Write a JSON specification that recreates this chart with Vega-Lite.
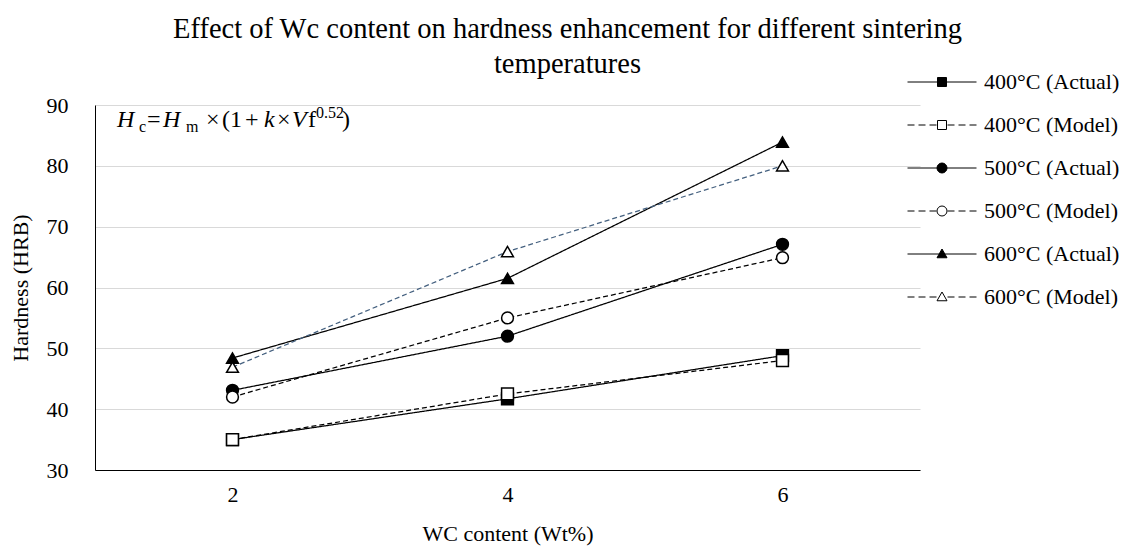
{
  "$schema": "https://vega.github.io/schema/vega-lite/v6.json",
  "width": 825,
  "height": 365,
  "autosize": {"type": "none"},
  "padding": {"left": 95, "top": 105, "right": 215, "bottom": 76},
  "background": "white",
  "title": {
    "text": ["Effect of Wc content on hardness enhancement for different sintering", "temperatures"],
    "anchor": "middle",
    "dx": 60,
    "font": "Liberation Serif",
    "fontSize": 28.5,
    "fontWeight": "normal",
    "color": "black",
    "lineHeight": 35,
    "offset": -7
  },
  "datasets": {
    "hardness": [
      {"wc": 2, "hardness": 35, "series": "400°C (Actual)"},
      {"wc": 4, "hardness": 41.7, "series": "400°C (Actual)"},
      {"wc": 6, "hardness": 48.8, "series": "400°C (Actual)"},
      {"wc": 2, "hardness": 35, "series": "400°C (Model)"},
      {"wc": 4, "hardness": 42.5, "series": "400°C (Model)"},
      {"wc": 6, "hardness": 48, "series": "400°C (Model)"},
      {"wc": 2, "hardness": 43.1, "series": "500°C (Actual)"},
      {"wc": 4, "hardness": 52, "series": "500°C (Actual)"},
      {"wc": 6, "hardness": 67.1, "series": "500°C (Actual)"},
      {"wc": 2, "hardness": 42, "series": "500°C (Model)"},
      {"wc": 4, "hardness": 55, "series": "500°C (Model)"},
      {"wc": 6, "hardness": 64.9, "series": "500°C (Model)"},
      {"wc": 2, "hardness": 48.4, "series": "600°C (Actual)"},
      {"wc": 4, "hardness": 61.5, "series": "600°C (Actual)"},
      {"wc": 6, "hardness": 83.9, "series": "600°C (Actual)"},
      {"wc": 2, "hardness": 46.9, "series": "600°C (Model)"},
      {"wc": 4, "hardness": 65.9, "series": "600°C (Model)"},
      {"wc": 6, "hardness": 80, "series": "600°C (Model)"}
    ],
    "note": [
      {"label": "equation"}
    ]
  },
  "data": {"name": "hardness"},
  "layer": [
    {
      "mark": {"type": "line", "strokeWidth": 1.25},
      "encoding": {
        "x": {
          "field": "wc",
          "type": "ordinal",
          "scale": {"type": "point", "padding": 0.5},
          "axis": {"title": "WC content (Wt%)", "labelAngle": 0, "labelPadding": 14, "titlePadding": 18, "grid": false}
        },
        "y": {
          "field": "hardness",
          "type": "quantitative",
          "scale": {"domain": [30, 90], "nice": false, "zero": false},
          "axis": {"title": "Hardness (HRB)", "values": [30, 40, 50, 60, 70, 80, 90], "labelPadding": 27, "titlePadding": 14, "grid": true}
        },
        "color": {
          "field": "series",
          "type": "nominal",
          "scale": {
            "domain": ["400°C (Actual)", "400°C (Model)", "500°C (Actual)", "500°C (Model)", "600°C (Actual)", "600°C (Model)"],
            "range": ["#000000", "#000000", "#000000", "#000000", "#000000", "#44607F"]
          },
          "legend": null
        },
        "strokeDash": {
          "field": "series",
          "type": "nominal",
          "scale": {
            "domain": ["400°C (Actual)", "400°C (Model)", "500°C (Actual)", "500°C (Model)", "600°C (Actual)", "600°C (Model)"],
            "range": [[1, 0], [5, 3], [1, 0], [5, 3], [1, 0], [5, 3]]
          },
          "legend": null
        }
      }
    },
    {
      "mark": {"type": "point", "size": 140, "stroke": "black", "strokeWidth": 1.5, "opacity": 1},
      "encoding": {
        "x": {"field": "wc", "type": "ordinal"},
        "y": {"field": "hardness", "type": "quantitative"},
        "shape": {
          "field": "series",
          "type": "nominal",
          "scale": {
            "domain": ["400°C (Actual)", "400°C (Model)", "500°C (Actual)", "500°C (Model)", "600°C (Actual)", "600°C (Model)"],
            "range": ["square", "square", "circle", "circle", "triangle-up", "triangle-up"]
          },
          "legend": null
        },
        "fill": {
          "field": "series",
          "type": "nominal",
          "scale": {
            "domain": ["400°C (Actual)", "400°C (Model)", "500°C (Actual)", "500°C (Model)", "600°C (Actual)", "600°C (Model)"],
            "range": ["#000000", "#ffffff", "#000000", "#ffffff", "#000000", "#ffffff"]
          },
          "legend": null
        }
      }
    },
    {
      "mark": {"type": "point", "size": 0, "stroke": "black", "strokeWidth": 1, "opacity": 1},
      "encoding": {
        "x": {"field": "wc", "type": "ordinal"},
        "y": {"field": "hardness", "type": "quantitative"},
        "shape": {
          "field": "series",
          "type": "nominal",
          "scale": {
            "domain": ["400°C (Actual)", "400°C (Model)", "500°C (Actual)", "500°C (Model)", "600°C (Actual)", "600°C (Model)"],
            "range": [
              "M-6.9,0H6.9M-0.9,-0.9H0.9V0.9H-0.9Z",
              "M-6.9,0H-5.5M-4.7,0H-3.3M-2.5,0H-1.1M1.1,0H2.5M3.3,0H4.7M5.5,0H6.9M-0.9,-0.9H0.9V0.9H-0.9Z",
              "M-6.9,0H6.9M1,0A1,1,0,1,1,-1,0A1,1,0,1,1,1,0Z",
              "M-6.9,0H-5.5M-4.7,0H-3.3M-2.5,0H-1.1M1.1,0H2.5M3.3,0H4.7M5.5,0H6.9M1,0A1,1,0,1,1,-1,0A1,1,0,1,1,1,0Z",
              "M-6.9,0H6.9M0,-1L1,0.75L-1,0.75Z",
              "M-6.9,0H-5.5M-4.7,0H-3.3M-2.5,0H-1.1M1.1,0H2.5M3.3,0H4.7M5.5,0H6.9M0,-1L1,0.75L-1,0.75Z"
            ]
          },
          "legend": {
            "title": null, "orient": "none", "legendX": 836, "legendY": -34, "padding": 0,
            "symbolSize": 100, "symbolStrokeWidth": 1, "labelOffset": 31, "rowPadding": 21,
            "labelFont": "Liberation Serif", "labelFontSize": 22, "labelColor": "black"
          }
        },
        "fill": {
          "field": "series",
          "type": "nominal",
          "scale": {
            "domain": ["400°C (Actual)", "400°C (Model)", "500°C (Actual)", "500°C (Model)", "600°C (Actual)", "600°C (Model)"],
            "range": ["#000000", "#ffffff", "#000000", "#ffffff", "#000000", "#ffffff"]
          },
          "legend": {
            "title": null, "orient": "none", "legendX": 836, "legendY": -34, "padding": 0,
            "symbolSize": 100, "symbolStrokeWidth": 1, "labelOffset": 31, "rowPadding": 21,
            "labelFont": "Liberation Serif", "labelFontSize": 22, "labelColor": "black"
          }
        }
      }
    },
    {"data": {"name": "note"}, "mark": {"type": "text", "align": "left", "baseline": "alphabetic", "dx": -115.5, "fontSize": 24, "fontStyle": "italic", "color": "black", "font": "Liberation Serif"}, "encoding": {"x": {"datum": 2, "type": "ordinal"}, "y": {"datum": 86.4, "type": "quantitative"}, "text": {"value": "H"}}},
    {"data": {"name": "note"}, "mark": {"type": "text", "align": "left", "baseline": "alphabetic", "dx": -93.5, "dy": 5, "fontSize": 16, "color": "black", "font": "Liberation Serif"}, "encoding": {"x": {"datum": 2, "type": "ordinal"}, "y": {"datum": 86.4, "type": "quantitative"}, "text": {"value": "c"}}},
    {"data": {"name": "note"}, "mark": {"type": "text", "align": "left", "baseline": "alphabetic", "dx": -85.5, "fontSize": 24, "color": "black", "font": "Liberation Serif"}, "encoding": {"x": {"datum": 2, "type": "ordinal"}, "y": {"datum": 86.4, "type": "quantitative"}, "text": {"value": "="}}},
    {"data": {"name": "note"}, "mark": {"type": "text", "align": "left", "baseline": "alphabetic", "dx": -69.5, "fontSize": 24, "fontStyle": "italic", "color": "black", "font": "Liberation Serif"}, "encoding": {"x": {"datum": 2, "type": "ordinal"}, "y": {"datum": 86.4, "type": "quantitative"}, "text": {"value": "H"}}},
    {"data": {"name": "note"}, "mark": {"type": "text", "align": "left", "baseline": "alphabetic", "dx": -46.5, "dy": 5, "fontSize": 16, "color": "black", "font": "Liberation Serif"}, "encoding": {"x": {"datum": 2, "type": "ordinal"}, "y": {"datum": 86.4, "type": "quantitative"}, "text": {"value": "m"}}},
    {"data": {"name": "note"}, "mark": {"type": "text", "align": "left", "baseline": "alphabetic", "dx": -26.5, "fontSize": 24, "color": "black", "font": "Liberation Serif"}, "encoding": {"x": {"datum": 2, "type": "ordinal"}, "y": {"datum": 86.4, "type": "quantitative"}, "text": {"value": "×"}}},
    {"data": {"name": "note"}, "mark": {"type": "text", "align": "left", "baseline": "alphabetic", "dx": -10.5, "fontSize": 24, "color": "black", "font": "Liberation Serif"}, "encoding": {"x": {"datum": 2, "type": "ordinal"}, "y": {"datum": 86.4, "type": "quantitative"}, "text": {"value": "(1"}}},
    {"data": {"name": "note"}, "mark": {"type": "text", "align": "left", "baseline": "alphabetic", "dx": 12.5, "fontSize": 24, "color": "black", "font": "Liberation Serif"}, "encoding": {"x": {"datum": 2, "type": "ordinal"}, "y": {"datum": 86.4, "type": "quantitative"}, "text": {"value": "+"}}},
    {"data": {"name": "note"}, "mark": {"type": "text", "align": "left", "baseline": "alphabetic", "dx": 31.5, "fontSize": 24, "fontStyle": "italic", "color": "black", "font": "Liberation Serif"}, "encoding": {"x": {"datum": 2, "type": "ordinal"}, "y": {"datum": 86.4, "type": "quantitative"}, "text": {"value": "k"}}},
    {"data": {"name": "note"}, "mark": {"type": "text", "align": "left", "baseline": "alphabetic", "dx": 44.5, "fontSize": 24, "color": "black", "font": "Liberation Serif"}, "encoding": {"x": {"datum": 2, "type": "ordinal"}, "y": {"datum": 86.4, "type": "quantitative"}, "text": {"value": "×"}}},
    {"data": {"name": "note"}, "mark": {"type": "text", "align": "left", "baseline": "alphabetic", "dx": 59.5, "fontSize": 24, "fontStyle": "italic", "color": "black", "font": "Liberation Serif"}, "encoding": {"x": {"datum": 2, "type": "ordinal"}, "y": {"datum": 86.4, "type": "quantitative"}, "text": {"value": "V"}}},
    {"data": {"name": "note"}, "mark": {"type": "text", "align": "left", "baseline": "alphabetic", "dx": 75.5, "fontSize": 24, "color": "black", "font": "Liberation Serif"}, "encoding": {"x": {"datum": 2, "type": "ordinal"}, "y": {"datum": 86.4, "type": "quantitative"}, "text": {"value": "f"}}},
    {"data": {"name": "note"}, "mark": {"type": "text", "align": "left", "baseline": "alphabetic", "dx": 83.5, "dy": -9, "fontSize": 16, "color": "black", "font": "Liberation Serif"}, "encoding": {"x": {"datum": 2, "type": "ordinal"}, "y": {"datum": 86.4, "type": "quantitative"}, "text": {"value": "0.52"}}},
    {"data": {"name": "note"}, "mark": {"type": "text", "align": "left", "baseline": "alphabetic", "dx": 109.5, "fontSize": 24, "color": "black", "font": "Liberation Serif"}, "encoding": {"x": {"datum": 2, "type": "ordinal"}, "y": {"datum": 86.4, "type": "quantitative"}, "text": {"value": ")"}}}
  ],
  "resolve": {"scale": {"shape": "independent", "fill": "independent"}},
  "config": {
    "font": "Liberation Serif",
    "view": {"stroke": null},
    "axis": {
      "labelFont": "Liberation Serif",
      "titleFont": "Liberation Serif",
      "labelFontSize": 22,
      "titleFontSize": 22,
      "labelColor": "black",
      "titleColor": "black",
      "titleFontWeight": "normal",
      "domainColor": "black",
      "domainWidth": 1,
      "ticks": false,
      "tickSize": 0,
      "gridColor": "#d9d9d9",
      "gridWidth": 1
    }
  }
}
